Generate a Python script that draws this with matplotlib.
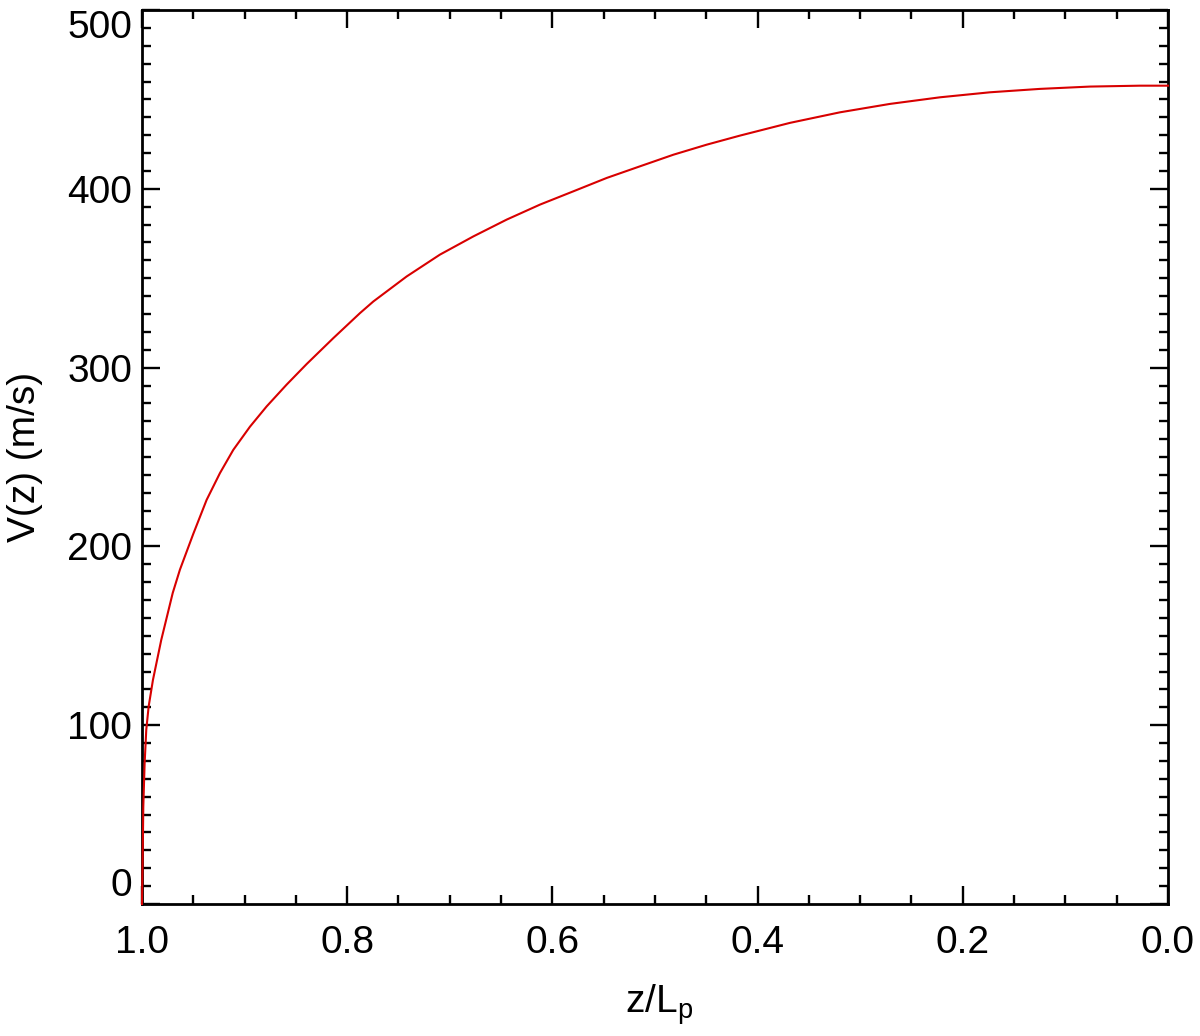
import matplotlib as mpl
import matplotlib.pyplot as plt
from matplotlib.ticker import MultipleLocator

# values (z/Lp, V in m/s)
z_frac = [1.0, 0.9993, 0.9987, 0.9974, 0.9958, 0.9935, 0.9893, 0.9812, 0.970,
          0.963, 0.950, 0.937, 0.924, 0.911, 0.8947, 0.8785, 0.859, 0.8395,
          0.8135, 0.7875, 0.7745, 0.742, 0.7096, 0.677, 0.6445, 0.612, 0.5796,
          0.547, 0.5146, 0.482, 0.4496, 0.417, 0.3684, 0.3197, 0.271, 0.2222,
          0.1735, 0.1248, 0.076, 0.0273, 0.0]
velocity = [0, 26.5, 54.4, 78.7, 97.4, 110.4, 125.3, 147.7, 174,
            187, 207, 226, 241, 254, 267, 278.3, 290.5, 302,
            316.5, 330.5, 337, 351, 363.2, 373.4, 382.8, 391.2, 398.6,
            406.1, 412.6, 419.1, 424.7, 429.8, 436.9, 442.8, 447.5, 451.2,
            454, 455.9, 457.2, 457.7, 457.7]

x_ticks = [1.0, 0.8, 0.6, 0.4, 0.2, 0.0]
y_ticks = [0, 100, 200, 300, 400, 500]

mpl.rcParams['font.family'] = ['Liberation Sans', 'DejaVu Sans']
mpl.rcParams['mathtext.fontset'] = 'custom'
mpl.rcParams['mathtext.rm'] = 'Liberation Sans'
mpl.rcParams['mathtext.it'] = 'Liberation Sans'
mpl.rcParams['font.size'] = 28

fig = plt.figure(figsize=(12, 10.36), dpi=100)
ax = fig.add_axes([0.1183, 0.1274, 0.855, 0.8629])

ax.plot(z_frac, velocity, color='#d80000', linewidth=1.5, clip_on=False, zorder=3)

ax.set_xlim(1.0, 0.0)
ax.set_ylim(0, 500)
ax.set_xticks(x_ticks)
ax.set_xticklabels([f"{t:.1f}" for t in x_ticks])
ax.set_yticks(y_ticks)
ax.set_yticklabels([str(t) for t in y_ticks])
ax.xaxis.set_minor_locator(MultipleLocator(0.05))
ax.yaxis.set_minor_locator(MultipleLocator(10))

ax.tick_params(which='both', direction='in', top=True, right=True, color='black')
ax.tick_params(which='major', length=13, width=1.7)
ax.tick_params(which='minor', length=6.5, width=1.7)
ax.tick_params(axis='x', which='major', pad=15)
ax.tick_params(axis='y', which='major', pad=7)
for sp in ax.spines.values():
    sp.set_linewidth(2.0)

# keep end labels inside the axis range
yt = ax.yaxis.get_major_ticks()
yt[0].label1.set_verticalalignment('bottom')
yt[-1].label1.set_verticalalignment('top')

ax.set_xlabel(r"z/L$_{\mathregular{p}}$")
ax.set_ylabel("V(z) (m/s)")
ax.xaxis.set_label_coords(0.504, -0.088)
ax.yaxis.set_label_coords(-0.0965, 0.5)

fig.savefig("out.png", dpi=100)
